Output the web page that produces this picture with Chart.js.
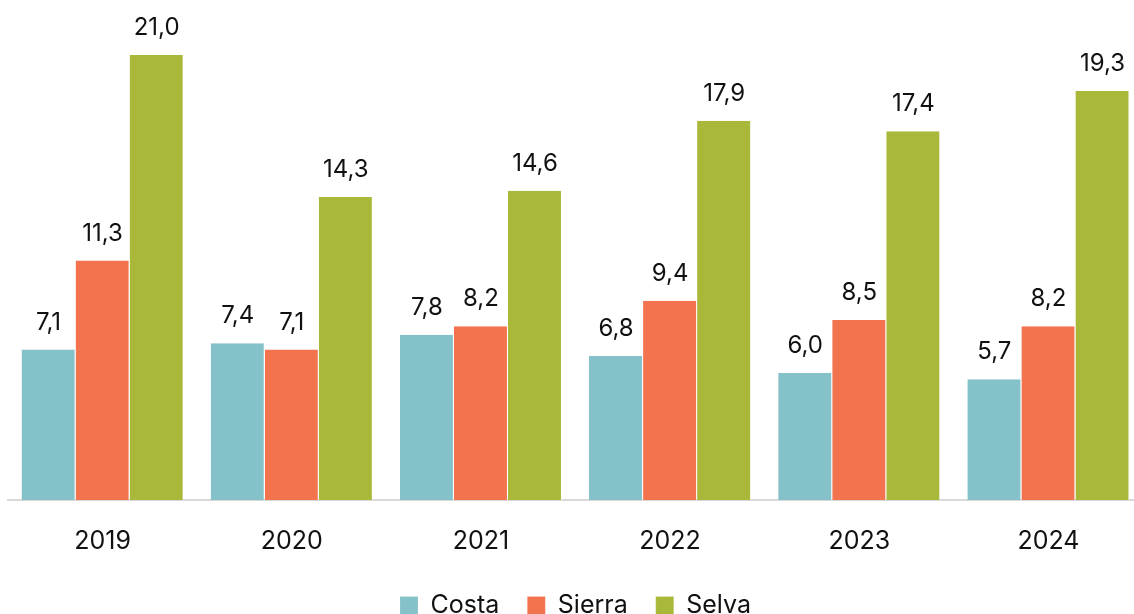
<!DOCTYPE html>
<html>
<head>
<meta charset="utf-8">
<script src="https://cdn.jsdelivr.net/npm/chart.js@4/dist/chart.umd.min.js"></script>
<style>
  html, body { margin: 0; padding: 0; background: #fff; overflow: hidden; }
  #wrap { width: 1143px; height: 628px; }
</style>
</head>
<body>
<div id="wrap"><canvas id="chart" width="1143" height="628"></canvas></div>
<script>
// Years on the x axis
const years = ['2019', '2020', '2021', '2022', '2023', '2024'];

// Values per region
const costa = [7.1, 7.4, 7.8, 6.8, 6.0, 5.7];
const sierra = [11.3, 7.1, 8.2, 9.4, 8.5, 8.2];
const selva = [21.0, 14.3, 14.6, 17.9, 17.4, 19.3];

const fontFamily = "Inter, 'Open Sans', sans-serif";

// Draw the value above each bar, with a comma as decimal mark
const valueLabels = {
    id: 'valueLabels',
    afterDatasetsDraw(chart) {
        const ctx = chart.ctx;
        ctx.save();
        ctx.font = '24px ' + fontFamily;
        ctx.fillStyle = '#111';
        ctx.textAlign = 'center';
        ctx.textBaseline = 'alphabetic';
        chart.data.datasets.forEach((ds, i) => {
            chart.getDatasetMeta(i).data.forEach((bar, j) => {
                const txt = ds.data[j].toFixed(1).replace('.', ',');
                ctx.fillText(txt, bar.x, bar.y - 20);
            });
        });
        ctx.restore();
    }
};

new Chart(document.getElementById('chart'), {
    type: 'bar',
    data: {
        labels: years,
        datasets: [
            { label: 'Costa', data: costa, backgroundColor: '#84c1c8' },
            { label: 'Sierra', data: sierra, backgroundColor: '#f4734f' },
            { label: 'Selva', data: selva, backgroundColor: '#aab83a' }
        ]
    },
    options: {
        responsive: false,
        animation: false,
        devicePixelRatio: 1,
        layout: { padding: { left: 8, right: 0, top: 0, bottom: 0 } },
        datasets: {
            bar: {
                categoryPercentage: 0.857,
                barPercentage: 1,
                borderWidth: { left: 0, right: 1, top: 0, bottom: 0 },
                borderColor: 'rgba(255,255,255,0.6)',
                borderSkipped: false
            }
        },
        scales: {
            x: {
                grid: { display: false, drawTicks: false },
                border: { display: true, color: '#d9d9d9', width: 2 },
                ticks: { color: '#111', font: { family: fontFamily, size: 25 }, padding: 26 },
                afterFit(scale) { scale.height -= 17; }
            },
            y: {
                display: false,
                min: 0,
                max: 23.6
            }
        },
        plugins: {
            legend: {
                position: 'bottom',
                labels: {
                    color: '#111',
                    boxWidth: 18,
                    boxHeight: 18,
                    padding: 28,
                    font: { family: fontFamily, size: 25 }
                }
            },
            tooltip: { enabled: false },
            title: { display: false }
        }
    },
    plugins: [valueLabels]
});
</script>
</body>
</html>
